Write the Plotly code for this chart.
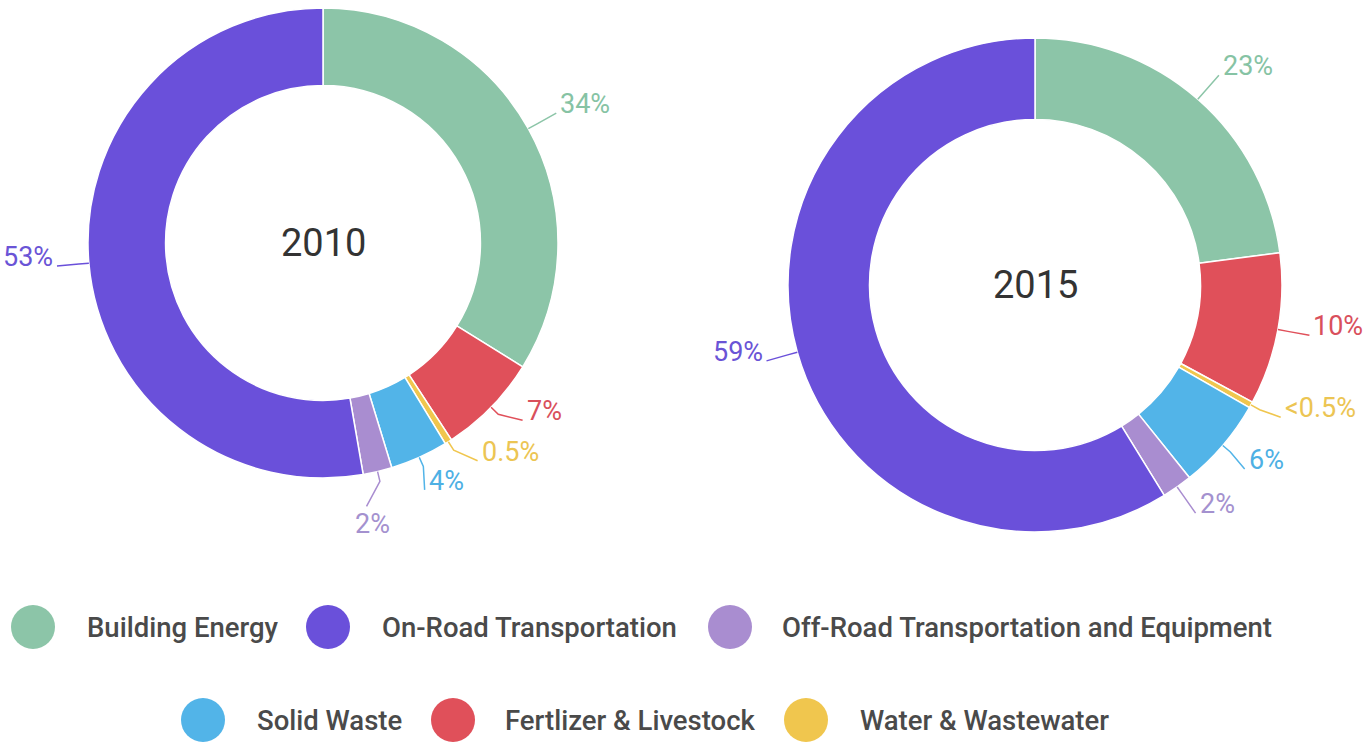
import math
import plotly.graph_objects as go

# ---------------- data ----------------
categories = ["Building Energy", "Fertlizer & Livestock", "Water & Wastewater",
              "Solid Waste", "Off-Road Transportation and Equipment", "On-Road Transportation"]
values_2010 = [34, 7, 0.5, 4, 2, 53]
values_2015 = [23, 10, 0.4, 6, 2, 59]
text_2010 = ["34%", "7%", "0.5%", "4%", "2%", "53%"]
text_2015 = ["23%", "10%", "<0.5%", "6%", "2%", "59%"]
years = ["2010", "2015"]
legend_row1 = ["Building Energy", "On-Road Transportation", "Off-Road Transportation and Equipment"]
legend_row2 = ["Solid Waste", "Fertlizer & Livestock", "Water & Wastewater"]

# ---------------- styles ----------------
slice_colors = {
    "Building Energy": "#8cc5a8",
    "Fertlizer & Livestock": "#e0505a",
    "Water & Wastewater": "#f0c64e",
    "Solid Waste": "#52b4e8",
    "Off-Road Transportation and Equipment": "#a98dd0",
    "On-Road Transportation": "#6a50da",
}
label_colors = {
    "Building Energy": "#86c3a4",
    "Fertlizer & Livestock": "#d9505c",
    "Water & Wastewater": "#ecc553",
    "Solid Waste": "#4eb0e4",
    "Off-Road Transportation and Equipment": "#a491cf",
    "On-Road Transportation": "#6a54d6",
}
W, H = 1363, 743
FONT = "Roboto, 'Noto Sans', sans-serif"
# pixel geometry of the two donuts: centre x, centre y, outer radius
geom = {"2010": (323, 243, 235), "2015": (1035, 285, 247)}
HOLE = 0.67
LABEL_OFF = 32      # px beyond outer radius where labels sit
ELBOW = 10          # px radial leader segment
MIN_GAP = 13.0      # degrees between neighbouring labels


def px(x):
    return x / W


def py(y):
    return 1 - y / H


def unit(deg):
    a = math.radians(deg)
    return math.sin(a), -math.cos(a)


def spread(angles):
    """push label angles apart so neighbours are at least MIN_GAP apart"""
    order = sorted(range(len(angles)), key=lambda i: angles[i])
    a = [angles[i] for i in order]
    for _ in range(400):
        moved = False
        for k in range(len(a) - 1):
            gap = a[k + 1] - a[k]
            if gap < MIN_GAP - 1e-6:
                d = (MIN_GAP - gap) / 2
                a[k] -= d
                a[k + 1] += d
                moved = True
        if not moved:
            break
    out = [0] * len(angles)
    for k, i in enumerate(order):
        out[i] = a[k]
    return out


fig = go.Figure()
shapes = []
annotations = []

for year, vals, texts in zip(years, [values_2010, values_2015], [text_2010, text_2015]):
    cx, cy, r = geom[year]
    fig.add_trace(go.Pie(
        labels=categories, values=vals, hole=HOLE, sort=False,
        direction="clockwise", rotation=0, textinfo="none",
        marker=dict(colors=[slice_colors[c] for c in categories],
                    line=dict(color="white", width=1.5)),
        domain=dict(x=[px(cx - r), px(cx + r)], y=[py(cy + r), py(cy - r)]),
        showlegend=False, hoverinfo="label+percent", name=year,
    ))
    annotations.append(dict(x=px(cx), y=py(cy), xref="paper", yref="paper",
                            xanchor="center", yanchor="middle",
                            text=year, showarrow=False,
                            font=dict(family=FONT, size=38, color="#333333")))

    total = sum(vals)
    cum = 0
    mids = []
    for v in vals:
        mids.append((cum + v / 2) / total * 360)
        cum += v
    right = [i for i, m in enumerate(mids) if m < 180]
    left = [i for i, m in enumerate(mids) if m >= 180]
    lab_ang = list(mids)
    for grp in (right, left):
        sp = spread([mids[i] for i in grp])
        for i, a in zip(grp, sp):
            lab_ang[i] = a

    for i, cat in enumerate(categories):
        ux, uy = unit(mids[i])
        p0 = (cx + r * ux, cy + r * uy)
        p1 = (cx + (r + ELBOW) * ux, cy + (r + ELBOW) * uy)
        lx, ly = unit(lab_ang[i])
        p2 = (cx + (r + LABEL_OFF) * lx, cy + (r + LABEL_OFF) * ly)
        if lx > 0.22:
            xa, ya, tx, ty = "left", "middle", p2[0] + 2, p2[1] - 9
        elif lx < -0.22:
            xa, ya, tx, ty = "right", "middle", p2[0] - 2, p2[1] - 9
        else:
            xa, ya, tx, ty = "center", "top", p2[0] + 6, p2[1]
        path = "M {:.5f},{:.5f} L {:.5f},{:.5f} L {:.5f},{:.5f}".format(
            px(p0[0]), py(p0[1]), px(p1[0]), py(p1[1]), px(p2[0]), py(p2[1]))
        shapes.append(dict(type="path", xref="paper", yref="paper", path=path,
                           line=dict(color=slice_colors[cat], width=1.5)))
        annotations.append(dict(x=px(tx), y=py(ty), xref="paper", yref="paper",
                                text=texts[i], showarrow=False, xanchor=xa, yanchor=ya,
                                font=dict(family=FONT, size=27, color=label_colors[cat])))

# ---------------- custom legend ----------------
LEG_R = 22
legend_layout = [  # (row y, list of (circle centre x, text left x))
    (627, legend_row1, [(33, 85), (328, 380), (730, 780)]),
    (720, legend_row2, [(203, 255), (453, 503), (806, 858)]),
]
for ycen, names, xs in legend_layout:
    for name, (ccx, tlx) in zip(names, xs):
        shapes.append(dict(type="circle", xref="paper", yref="paper",
                           x0=px(ccx - LEG_R), x1=px(ccx + LEG_R),
                           y0=py(ycen + LEG_R), y1=py(ycen - LEG_R),
                           fillcolor=slice_colors[name], line=dict(width=0)))
        annotations.append(dict(x=px(tlx), y=py(ycen), xref="paper", yref="paper",
                                text=name, showarrow=False, xanchor="left", yanchor="middle",
                                font=dict(family=FONT, size=27.5, weight=500, color="#4a4a4a")))

fig.update_layout(
    width=W, height=H, margin=dict(l=0, r=0, t=0, b=0),
    paper_bgcolor="white", plot_bgcolor="white",
    shapes=shapes, annotations=annotations, showlegend=False,
)
fig.write_html("out.html")
